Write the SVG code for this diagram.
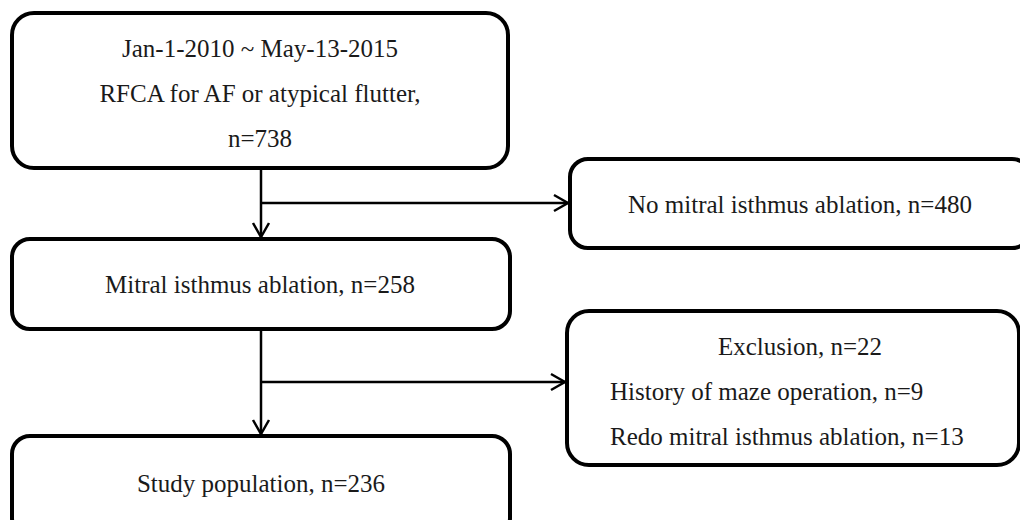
<svg xmlns="http://www.w3.org/2000/svg" width="1020" height="520" viewBox="0 0 1020 520">
<style>
.box{fill:#fff;stroke:#000;stroke-width:4}
.t{font-family:"Liberation Serif","Times New Roman",serif;font-size:25px;fill:#1a1a1a}
.c{text-anchor:middle}
.ln{stroke:#000;stroke-width:2.5;fill:none}
</style>
<defs>
<marker id="ah" viewBox="-16 -10 18 20" refX="0" refY="0" markerWidth="18" markerHeight="20" markerUnits="userSpaceOnUse" orient="auto">
<path d="M-14,-8 L0,0 L-14,8" fill="none" stroke="#000" stroke-width="2.5"/>
</marker>
</defs>
<rect width="1020" height="520" fill="#fff"/>
<g id="connectors">
<line class="ln" x1="261" y1="168" x2="261" y2="237" marker-end="url(#ah)"/>
<line class="ln" x1="261" y1="203" x2="568" y2="203" marker-end="url(#ah)"/>
<line class="ln" x1="261" y1="330" x2="261" y2="434" marker-end="url(#ah)"/>
<line class="ln" x1="261" y1="382" x2="565" y2="382" marker-end="url(#ah)"/>
</g>
<g id="n1">
<rect class="box" x="12" y="13" width="496" height="155" rx="22"/>
<text class="t c" x="260" y="57">Jan-1-2010 ~ May-13-2015</text>
<text class="t c" x="260" y="102">RFCA for AF or atypical flutter,</text>
<text class="t c" x="260" y="147">n=738</text>
</g>
<g id="n2">
<rect class="box" x="12" y="239" width="498" height="90" rx="18"/>
<text class="t c" x="260" y="293">Mitral isthmus ablation, n=258</text>
</g>
<g id="n3">
<rect class="box" x="570" y="159" width="460" height="89" rx="18"/>
<text class="t c" x="800" y="213">No mitral isthmus ablation, n=480</text>
</g>
<g id="n4">
<rect class="box" x="567" y="311" width="452" height="154" rx="22"/>
<text class="t c" x="800" y="355">Exclusion, n=22</text>
<text class="t" x="610" y="400">History of maze operation, n=9</text>
<text class="t" x="610" y="445">Redo mitral isthmus ablation, n=13</text>
</g>
<g id="n5">
<rect class="box" x="12" y="436" width="498" height="100" rx="18"/>
<text class="t c" x="261" y="492">Study population, n=236</text>
</g>
</svg>
